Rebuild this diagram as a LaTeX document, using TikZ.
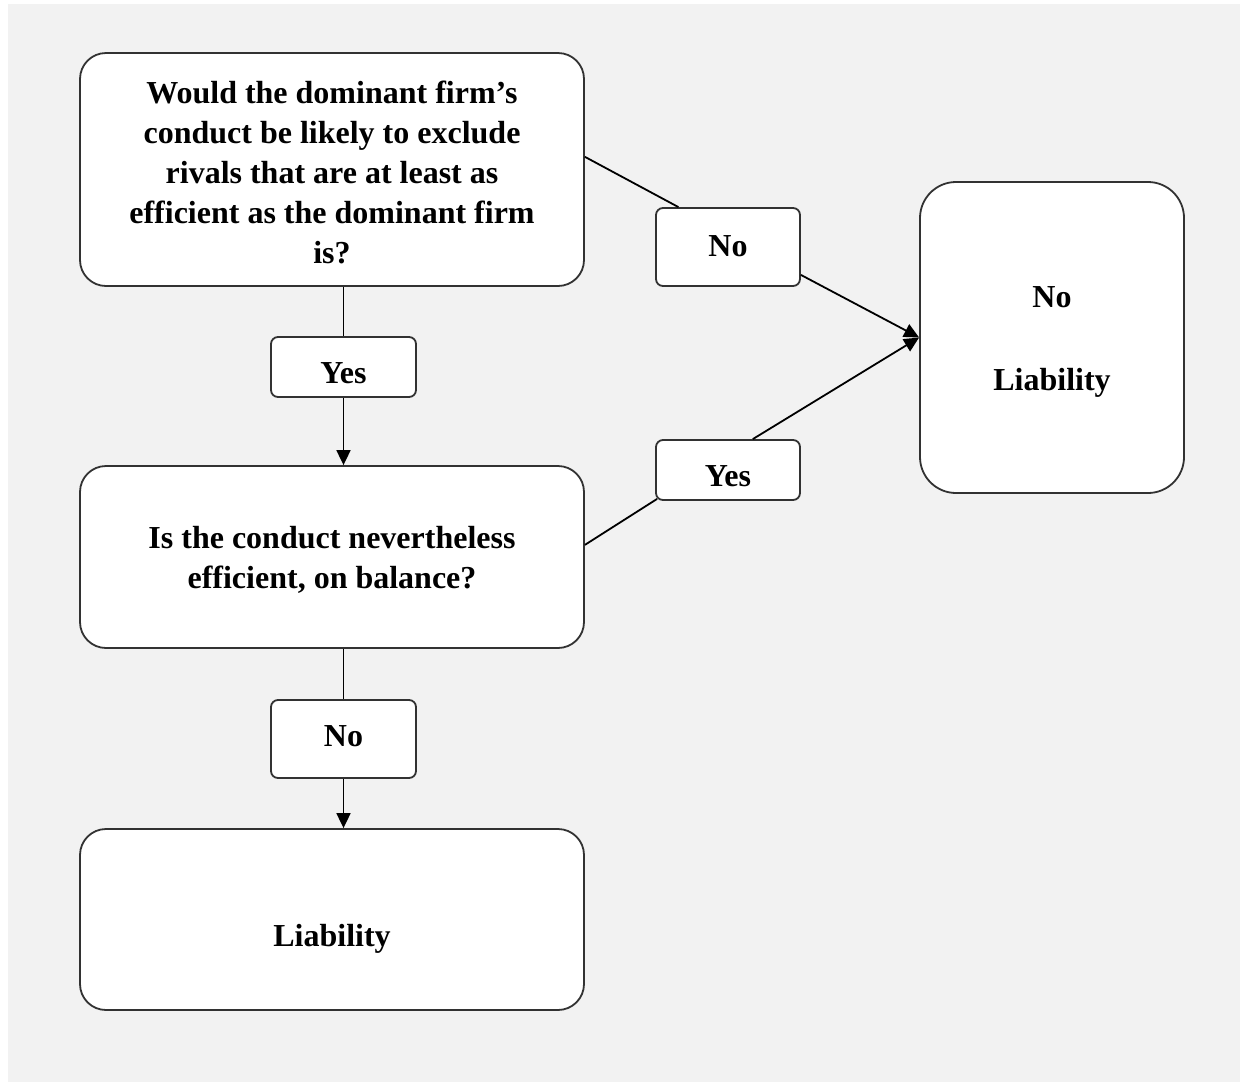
\documentclass[tikz,border=0pt]{standalone}
\usepackage{fontspec}
\setmainfont{Liberation Serif}
\usetikzlibrary{arrows.meta,calc}
\definecolor{bgc}{RGB}{242,242,242}
\definecolor{edge}{RGB}{50,50,50}
\newcommand\txt[2]{\raisebox{#1}[\height][\depth]{\begin{tabular}{@{}c@{}}#2\end{tabular}}}
\begin{document}
\begin{tikzpicture}[x=1pt,y=-1pt,
  every node/.style={font=\fontsize{32}{40}\selectfont\bfseries, inner sep=0pt},
  bigbox/.style={draw=edge, line width=1.8pt, fill=white, rounded corners=26pt, minimum width=504pt},
  tallbox/.style={draw=edge, line width=1.8pt, fill=white, rounded corners=36pt},
  lbl/.style={draw=edge, line width=1.8pt, fill=white, rounded corners=7pt},
  conn/.style={line width=1.8pt, draw=black},
  arr/.style={conn, -{Triangle[length=15pt,width=14pt]}}
]
\useasboundingbox (0,0) rectangle (1242,1085);
\fill[white] (0,0) rectangle (1242,1085);
\fill[bgc] (8,4) rectangle (1240,1082);

\node[bigbox, minimum height=233pt] (q1) at (332,169.5) {\txt{-5.5pt}{Would the dominant firm’s\\conduct be likely to exclude\\rivals that are at least as\\efficient as the dominant firm\\is?}};
\node[bigbox, minimum height=182pt] (q2) at (332,557) {\txt{-3pt}{Is the conduct nevertheless\\efficient, on balance?}};
\node[bigbox, minimum height=181pt] (liab) at (332,919.5) {\txt{-18.5pt}{Liability}};
\node[tallbox, minimum width=264pt, minimum height=311pt] (noliab) at (1052,337.5) {\txt{-3pt}{No\\[43pt]Liability}};

\node[lbl, minimum width=145pt, minimum height=60pt] (yes1) at (343.5,367) {\txt{-8pt}{Yes}};
\node[lbl, minimum width=145pt, minimum height=78pt] (no2) at (343.5,739) {\txt{1pt}{No}};
\node[lbl, minimum width=144pt, minimum height=78pt] (no1) at (728,247) {\txt{-1pt}{No}};
\node[lbl, minimum width=144pt, minimum height=60pt] (yes2) at (728,470) {\txt{-8pt}{Yes}};

\draw[conn] (yes1.north |- q1.south) -- (yes1.north);
\draw[arr] (yes1.south) -- (yes1.south |- q2.north);
\draw[conn] (no2.north |- q2.south) -- (no2.north);
\draw[arr] (no2.south) -- (no2.south |- liab.north);

\coordinate (q1r) at ($(q1.north east)!0.446!(q1.south east)$);
\coordinate (no1t) at ($(no1.north west)!0.16!(no1.north east)$);
\draw[conn] (q1r) -- (no1t);
\coordinate (no1r) at ($(no1.south east)+(0,-12)$);
\draw[arr] (no1r) -- (noliab.west);

\coordinate (q2r) at ($(q2.north east)!0.434!(q2.south east)$);
\coordinate (yes2b) at ($(yes2.south west)+(2,-2)$);
\draw[conn] (q2r) -- (yes2b);
\coordinate (yes2t) at ($(yes2.north west)!0.67!(yes2.north east)$);
\draw[arr] (yes2t) -- (noliab.west);
\end{tikzpicture}
\end{document}
